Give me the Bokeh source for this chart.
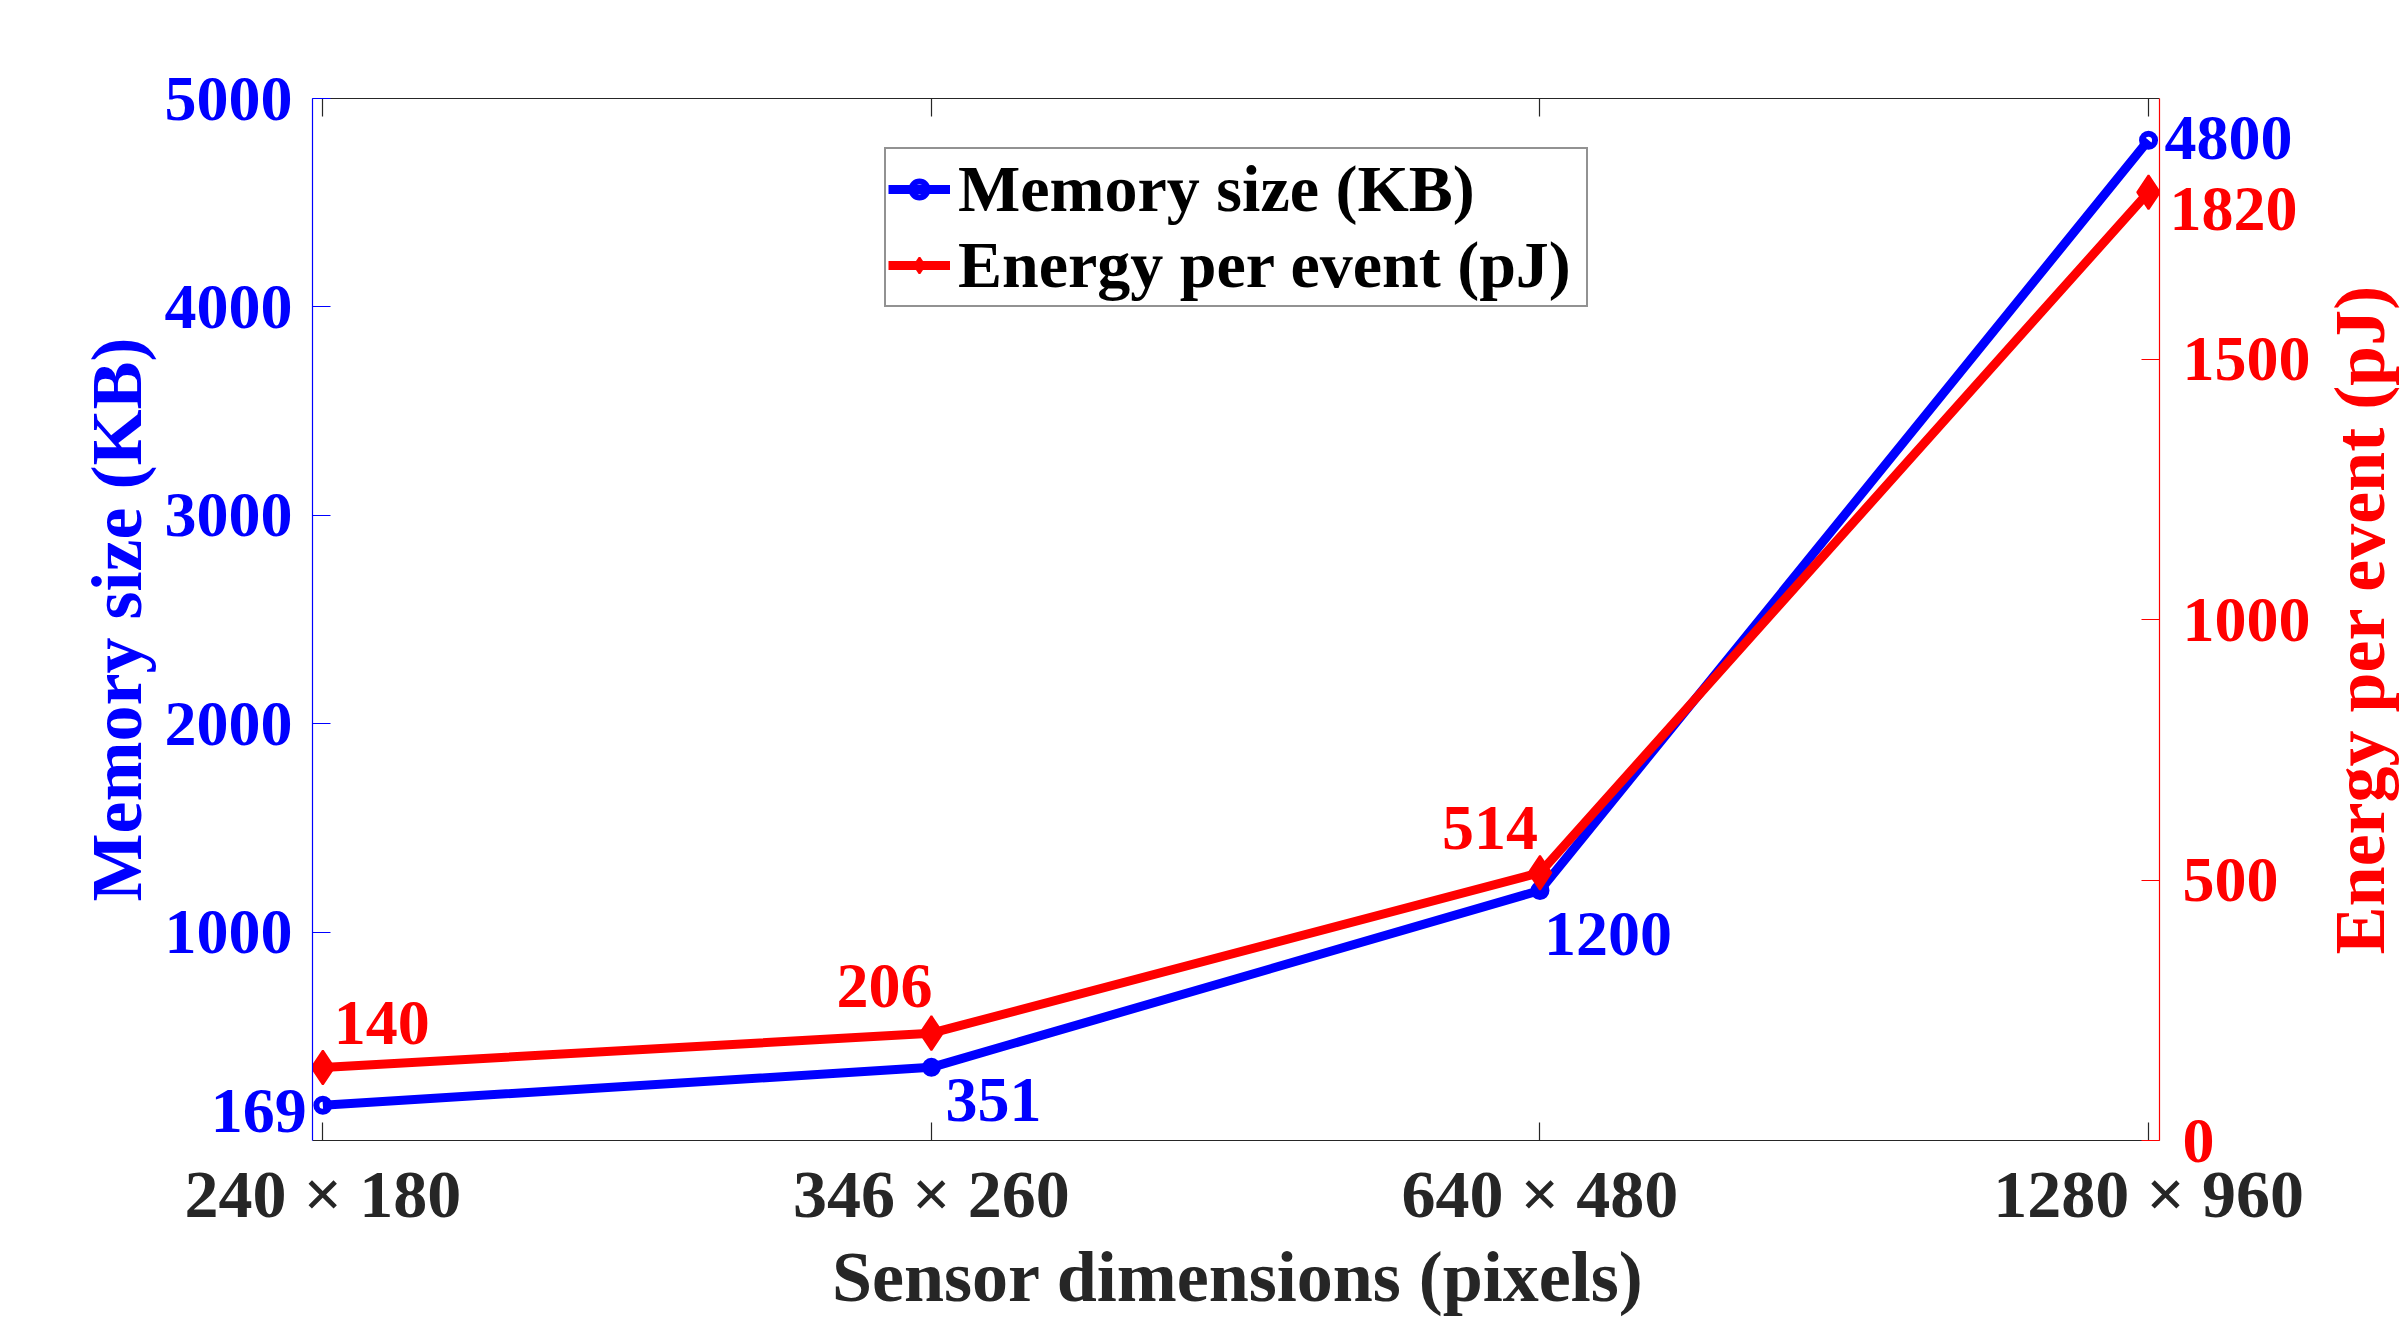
import math
from bokeh.plotting import figure
from bokeh.models import Range1d, LinearAxis, FixedTicker, Legend, LegendItem
from bokeh.core.properties import value
from bokeh.embed import file_html
from bokeh.resources import INLINE

# ---- data ----
categories = ["240 × 180", "346 × 260", "640 × 480", "1280 × 960"]
memory_kb = [169, 351, 1200, 4800]
energy_pj = [140, 206, 514, 1820]
memory_ticks = [1000, 2000, 3000, 4000, 5000]
energy_ticks = [0, 500, 1000, 1500]
memory_range = (0, 5000)
energy_range = (0, 2000)
memory_label = "Memory size (KB)"
energy_label = "Energy per event (pJ)"
x_label = "Sensor dimensions (pixels)"

# ---- style / layout ----
FONT = "Liberation Serif"
BLUE = "#0000FF"
RED = "#FF0000"
DARK = "#262626"
FW, FH = 1847, 1042
BL, BT, BR, BB = 312, 98, 241, 178
XR = (-0.017, 3.018)
mem_dx = [-16, 14, 4, 16]
mem_dy = [6, 33, 44, -2]
mem_align = ["right", "left", "left", "left"]
en_dx = [11, 1, -2, 21]
en_dy = [-45, -47, -45, 17]
en_align = ["left", "right", "right", "left"]

x = list(range(len(categories)))

p = figure(frame_width=FW, frame_height=FH, output_backend="svg", toolbar_location=None,
           x_range=Range1d(*XR), y_range=Range1d(*memory_range),
           min_border_left=BL, min_border_right=BR, min_border_top=BT,
           min_border_bottom=BB, outline_line_color=None,
           background_fill_color="white", border_fill_color="white")
p.grid.visible = False
p.extra_y_ranges = {"energy": Range1d(*energy_range)}


def style_axis(ax, color, tick_size, standoff):
    ax.axis_line_color = color
    ax.axis_line_width = 1.2
    ax.major_tick_line_color = color
    ax.major_tick_line_width = 1.2
    ax.minor_tick_line_color = None
    ax.major_tick_in = 18
    ax.major_tick_out = 0
    ax.major_label_text_color = color
    ax.major_label_text_font = FONT
    ax.major_label_text_font_style = "bold"
    ax.major_label_text_font_size = tick_size
    ax.major_label_standoff = standoff
    ax.axis_label_text_color = color
    ax.axis_label_text_font = FONT
    ax.axis_label_text_font_style = "bold"
    ax.axis_label_text_font_size = "72px"


# bottom axis
xa = p.xaxis[0]
xa.ticker = FixedTicker(ticks=x)
xa.major_label_overrides = {i: c for i, c in zip(x, categories)}
style_axis(xa, DARK, "68px", 15)

# top axis (box)
ta = LinearAxis(ticker=FixedTicker(ticks=x))
style_axis(ta, DARK, "0px", 0)
ta.major_label_text_alpha = 0
p.add_layout(ta, "above")

# left axis
ya = p.yaxis[0]
ya.ticker = FixedTicker(ticks=memory_ticks)
style_axis(ya, BLUE, "64px", 20)
ya.axis_label = memory_label
ya.axis_label_standoff = 5

# right axis
ra = LinearAxis(y_range_name="energy", ticker=FixedTicker(ticks=energy_ticks))
style_axis(ra, RED, "64px", 23)
p.add_layout(ra, "right")

# series
mem_line = p.line(x, memory_kb, line_color=BLUE, line_width=9, line_join="round")
mem_pts = p.scatter(x, memory_kb, marker="circle", size=13, line_width=6,
                    line_color=BLUE, fill_color=None)
en_line = p.line(x, energy_pj, y_range_name="energy", line_color=RED,
                 line_width=9, line_join="round")
en_pts = p.scatter(x, energy_pj, y_range_name="energy", marker="diamond",
                   size=34, line_width=2, line_color=RED, fill_color=RED)

# value labels (overlay level so they may extend past the frame)
for xi, v, dx, dy, al in zip(x, memory_kb, mem_dx, mem_dy, mem_align):
    p.text(x=[xi], y=[v], text=[str(v)], x_offset=dx, y_offset=dy,
           text_align=al, text_baseline="middle", text_color=BLUE,
           text_font=value(FONT), text_font_style="bold", text_font_size="64px",
           level="overlay")
for xi, v, dx, dy, al in zip(x, energy_pj, en_dx, en_dy, en_align):
    p.text(x=[xi], y=[v], text=[str(v)], x_offset=dx, y_offset=dy,
           text_align=al, text_baseline="middle", text_color=RED,
           text_font=value(FONT), text_font_style="bold", text_font_size="64px",
           y_range_name="energy", level="overlay")

# x-axis title, anchored at the bottom-centre of the frame
p.text(x=[(XR[0] + XR[1]) / 2], y=[memory_range[0]], text=[x_label],
       x_offset=2, y_offset=136, text_align="center", text_baseline="middle",
       text_color=DARK, text_font=value(FONT), text_font_style="bold",
       text_font_size="72px", level="overlay")
# right-axis title, reading bottom to top
p.text(x=[XR[1]], y=[(energy_range[0] + energy_range[1]) / 2], text=[energy_label],
       y_range_name="energy", angle=math.pi / 2, x_offset=200, y_offset=0,
       text_align="center", text_baseline="middle", text_color=RED,
       text_font=value(FONT), text_font_style="bold", text_font_size="72px",
       level="overlay")

legend = Legend(items=[LegendItem(label=memory_label, renderers=[mem_line, mem_pts]),
                       LegendItem(label=energy_label, renderers=[en_line, en_pts])],
                location=(572, 833), margin=0, padding=2, spacing=0,
                glyph_width=62, glyph_height=40, label_standoff=8, label_width=626,
                label_text_font=FONT, label_text_font_style="bold",
                label_text_font_size="66px", label_text_color="black",
                border_line_color=DARK, border_line_width=2,
                background_fill_color="white", background_fill_alpha=1.0)
p.add_layout(legend)

open("out.html", "w").write(file_html(p, INLINE))
